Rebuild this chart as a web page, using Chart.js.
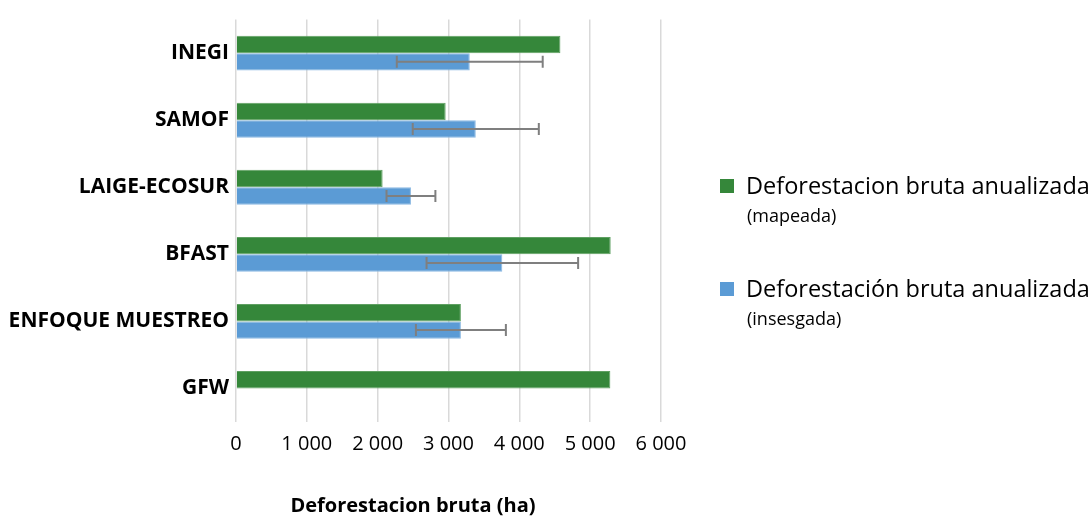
<!DOCTYPE html>
<html>
<head>
<meta charset="utf-8">
<script src="https://cdn.jsdelivr.net/npm/chart.js@4/dist/chart.umd.min.js"></script>
<style>
  html, body { margin: 0; padding: 0; background: #fff; }
  #wrap { position: relative; width: 1092px; height: 517px; font-family: "Open Sans", sans-serif; }
  .leg { position: absolute; left: 720px; color: #000; }
  .leg .box { position: absolute; left: 0; width: 14px; height: 14px; }
  .leg .main { position: absolute; left: 26px; font-size: 23.5px; white-space: nowrap; line-height: 26px; }
  .leg .sub { position: absolute; left: 27px; font-size: 18px; white-space: nowrap; line-height: 22px; }
  #xtitle { position: absolute; left: 263px; width: 300px; top: 492px; text-align: center;
            font-size: 20px; font-weight: bold; white-space: nowrap; line-height: 26px; color: #000; }
</style>
</head>
<body>
<div id="wrap">
  <canvas id="defChart" width="1092" height="517"></canvas>
  <div class="leg" style="top:174px">
    <div class="box" style="top:5px;background:#35873a"></div>
    <div class="main" style="top:-2px">Deforestacion bruta anualizada</div>
    <div class="sub" style="top:30px">(mapeada)</div>
  </div>
  <div class="leg" style="top:277px">
    <div class="box" style="top:5px;background:#5b9bd5"></div>
    <div class="main" style="top:-2px">Deforestación bruta anualizada</div>
    <div class="sub" style="top:30px">(insesgada)</div>
  </div>
  <div id="xtitle">Deforestacion bruta (ha)</div>
</div>
<script>
var categories = ['INEGI', 'SAMOF', 'LAIGE-ECOSUR', 'BFAST', 'ENFOQUE MUESTREO', 'GFW'];
var mapped = [4580, 2960, 2070, 5290, 3175, 5285];
var unbiased = [3300, 3385, 2470, 3760, 3175, null];
var unbiasedErr = [1030, 890, 345, 1070, 635, null];
var xTicks = [0, 1000, 2000, 3000, 4000, 5000, 6000];

// error bars on the blue series
var errorBars = {
    id: 'errorBars',
    afterDatasetsDraw: function(chart) {
        var meta = chart.getDatasetMeta(1);
        var xs = chart.scales.x;
        var ctx = chart.ctx;
        ctx.save();
        ctx.strokeStyle = '#7f7f7f';
        ctx.lineWidth = 2;
        meta.data.forEach(function(bar, i) {
            if (unbiased[i] == null || unbiasedErr[i] == null) return;
            var y = bar.y;
            var x1 = xs.getPixelForValue(unbiased[i] - unbiasedErr[i]);
            var x2 = xs.getPixelForValue(unbiased[i] + unbiasedErr[i]);
            ctx.beginPath();
            ctx.moveTo(x1, y); ctx.lineTo(x2, y);
            ctx.moveTo(x1, y - 6); ctx.lineTo(x1, y + 6);
            ctx.moveTo(x2, y - 6); ctx.lineTo(x2, y + 6);
            ctx.stroke();
        });
        ctx.restore();
    }
};

var ctx = document.getElementById('defChart').getContext('2d');
var myChart = new Chart(ctx, {
    type: 'bar',
    data: {
        labels: categories,
        datasets: [{
            label: 'Deforestacion bruta anualizada (mapeada)',
            data: mapped,
            backgroundColor: '#35873a',
            borderColor: '#5fa062',
            borderWidth: 1
        }, {
            label: 'Deforestación bruta anualizada (insesgada)',
            data: unbiased,
            backgroundColor: '#5b9bd5',
            borderColor: '#8ab8e2',
            borderWidth: 1
        }]
    },
    options: {
        indexAxis: 'y',
        responsive: false,
        animation: false,
        layout: { padding: { top: 12, right: 431, bottom: 51, left: 0 } },
        plugins: {
            legend: { display: false },
            tooltip: { enabled: false }
        },
        datasets: {
            bar: { categoryPercentage: 0.52, barPercentage: 1 }
        },
        scales: {
            x: {
                min: 0,
                max: 6000,
                afterBuildTicks: function(axis) {
                    axis.ticks = xTicks.map(function(v) { return { value: v }; });
                },
                grid: { color: '#d9d9d9', lineWidth: 1.5, drawTicks: false },
                border: { display: false },
                ticks: {
                    color: '#000',
                    padding: 10,
                    font: { family: 'Open Sans', size: 20 },
                    callback: function(v) {
                        return String(v).replace(/\B(?=(\d{3})+(?!\d))/g, ' ');
                    }
                }
            },
            y: {
                afterFit: function(axis) { axis.width = 236; },
                grid: { display: false, drawTicks: false },
                border: { display: false },
                ticks: {
                    color: '#000',
                    padding: 7,
                    font: { family: 'Open Sans', size: 21, weight: 'bold' }
                }
            }
        }
    },
    plugins: [errorBars]
});
</script>
</body>
</html>
